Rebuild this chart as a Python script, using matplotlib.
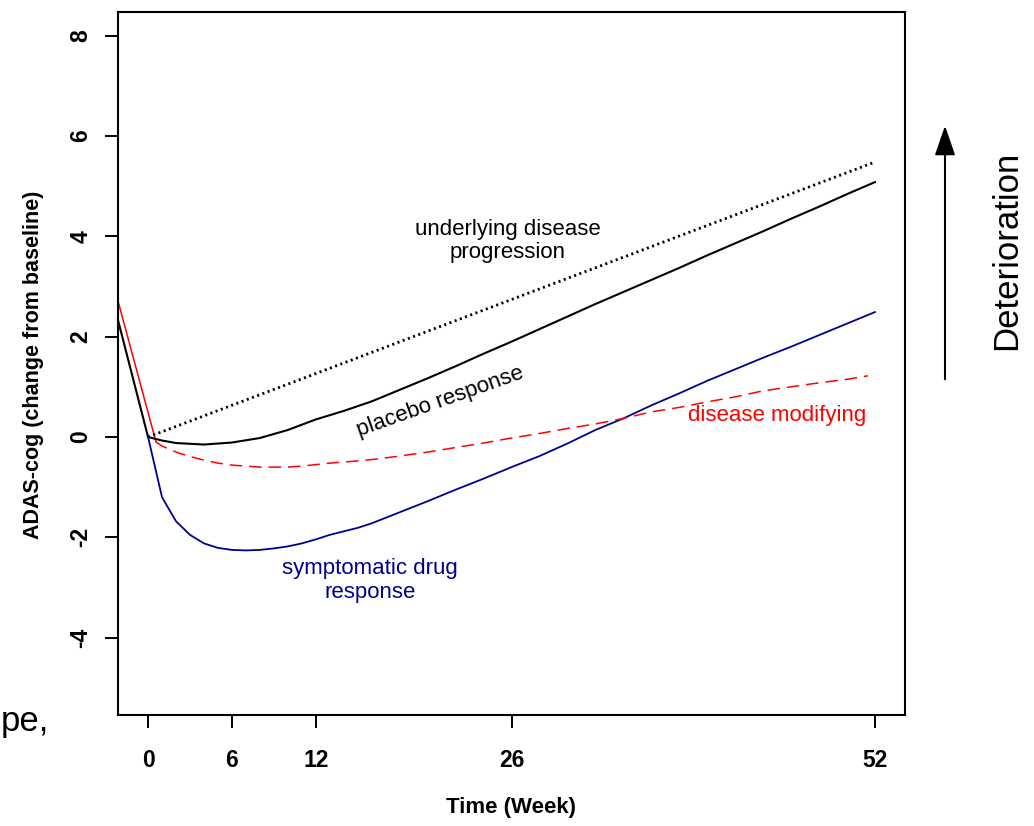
import matplotlib
matplotlib.use("Agg")
import matplotlib.pyplot as plt
from matplotlib import font_manager

# ---------------- data ----------------
# run-in segment before baseline
pre_weeks = [-2.15, 0.0]
placebo_pre = [2.33, 0.0]
dm_pre_weeks = [-2.15, 0.57]
dm_pre = [2.71, -0.10]

# underlying disease progression (dotted)
prog_weeks = [0, 52]
prog_vals = [0.0, 5.48]

# placebo response (black solid)
placebo_weeks = [0, 1, 2, 4, 6, 8, 10, 12, 14, 16, 18, 20, 22, 24, 26, 28,
                 30, 32, 34, 36, 38, 40, 42, 44, 46, 48, 50, 52]
placebo_vals = [0.0, -0.07, -0.12, -0.15, -0.11, -0.02, 0.14, 0.35, 0.52, 0.71,
                0.94, 1.17, 1.41, 1.66, 1.90, 2.15, 2.40, 2.65, 2.89, 3.13,
                3.37, 3.62, 3.86, 4.10, 4.35, 4.59, 4.84, 5.08]

# symptomatic drug response (blue)
sym_weeks = [0, 1, 2, 3, 4, 5, 6, 7, 8, 9, 10, 11, 12, 13, 14, 15, 16, 17, 18,
             19, 20, 22, 24, 26, 28, 30, 32, 34, 36, 38, 40, 42, 44, 46, 48, 50, 52]
sym_vals = [0.0, -1.20, -1.68, -1.95, -2.12, -2.21, -2.25, -2.26, -2.25, -2.22,
            -2.18, -2.12, -2.04, -1.95, -1.88, -1.81, -1.72, -1.61, -1.50, -1.39,
            -1.28, -1.05, -0.83, -0.60, -0.38, -0.13, 0.14, 0.37, 0.63, 0.87,
            1.12, 1.35, 1.58, 1.80, 2.03, 2.26, 2.49]

# disease modifying (red dashed)
dm_weeks = [0.57, 1, 2, 3, 4, 5, 6, 7, 8, 9, 10, 11, 12, 13, 14, 16, 18, 20, 22,
            24, 26, 28, 30, 32, 34, 36, 38, 40, 42, 44, 46, 48, 50, 51.5]
dm_vals = [-0.10, -0.18, -0.30, -0.39, -0.46, -0.52, -0.56, -0.58, -0.60, -0.60,
           -0.60, -0.58, -0.55, -0.52, -0.50, -0.45, -0.38, -0.30, -0.21, -0.12,
           -0.02, 0.07, 0.17, 0.26, 0.37, 0.50, 0.59, 0.70, 0.80, 0.92, 1.00,
           1.08, 1.15, 1.22]

x_ticks = [0, 6, 12, 26, 52]
y_ticks = [-4, -2, 0, 2, 4, 6, 8]

# ---------------- style ----------------
plt.rcParams['lines.scale_dashes'] = False
avail = {f.name for f in font_manager.fontManager.ttflist}
narrow = 'Liberation Sans Narrow' if 'Liberation Sans Narrow' in avail else 'Liberation Sans'
plt.rcParams['font.family'] = ['Liberation Sans', 'DejaVu Sans']

BLUE = '#00008F'
RED = '#FF0000'

fig = plt.figure(figsize=(10.34, 8.26), dpi=100)
W, H = 1034, 826
ax = fig.add_axes([118 / W, 1 - 715 / H, (905 - 118) / W, (715 - 12) / H])

ax.plot(pre_weeks, placebo_pre, color='black', lw=1.5, solid_capstyle='butt')
ax.plot(dm_pre_weeks, dm_pre, color=RED, lw=1.1)
ax.plot(prog_weeks, prog_vals, color='black', lw=2.0, dashes=(1.5, 2.5))
ax.plot(placebo_weeks, placebo_vals, color='black', lw=1.5)
ax.plot(sym_weeks, sym_vals, color=BLUE, lw=1.3)
ax.plot(dm_weeks, dm_vals, color=RED, lw=1.1, dashes=(9, 5))

ax.set_xlim(-2.15, 54.15)
ax.set_ylim(-5.54, 8.47)

for s in ax.spines.values():
    s.set_linewidth(1.5)

ax.set_xticks(x_ticks)
ax.set_yticks(y_ticks)
ax.set_xticklabels([str(v) for v in x_ticks])
ax.set_yticklabels([str(v) for v in y_ticks])
ax.tick_params(axis='both', direction='out', length=9.5, width=1.4)
ax.tick_params(axis='x', pad=15)
ax.tick_params(axis='y', pad=9, labelrotation=90)
for lab in ax.get_xticklabels() + ax.get_yticklabels():
    lab.set_fontfamily([narrow, 'Liberation Sans'])
    lab.set_fontweight('bold')
    lab.set_fontsize(16.5)
for lab in ax.get_yticklabels():
    lab.set_va('center')

# axis labels
fig.text(511 / W, 1 - 808 / H, 'Time (Week)', ha='center', va='center',
         fontsize=16, fontweight='bold', family=[narrow, 'Liberation Sans'])
fig.text(34 / W, 1 - 365 / H, 'ADAS-cog (change from baseline)', ha='center',
         va='center', rotation=90, fontsize=15.5, fontweight='bold',
         family=[narrow, 'Liberation Sans'])

# annotations
ax.text(25.75, 3.91, 'underlying disease\nprogression', ha='center', va='center',
        fontsize=16, linespacing=1.15, color='black')
ax.text(20.9, 0.70, 'placebo response', ha='center', va='center', fontsize=16,
        rotation=19.5, rotation_mode='anchor', color='black')
ax.text(45.0, 0.42, 'disease modifying', ha='center', va='center', fontsize=16,
        color=RED)
ax.text(15.9, -2.86, 'symptomatic drug\nresponse', ha='center', va='center',
        fontsize=16, linespacing=1.15, color=BLUE)

# deterioration arrow and label
fig.patches.append(matplotlib.patches.FancyArrowPatch(
    (945 / W, 1 - 382 / H), (945 / W, 1 - 123 / H), transform=fig.transFigure,
    arrowstyle='-|>,head_length=1.3,head_width=0.45', mutation_scale=14,
    color='black', lw=1.5))
fig.text(1007 / W, 1 - 250 / H, 'Deterioration', rotation=90, ha='center',
         va='center', fontsize=25)

# fragment of slide text at lower left
fig.text(0.001, 1 - 731 / H, 'pe,', ha='left', va='baseline', fontsize=25)

fig.savefig('out.png', dpi=100)
